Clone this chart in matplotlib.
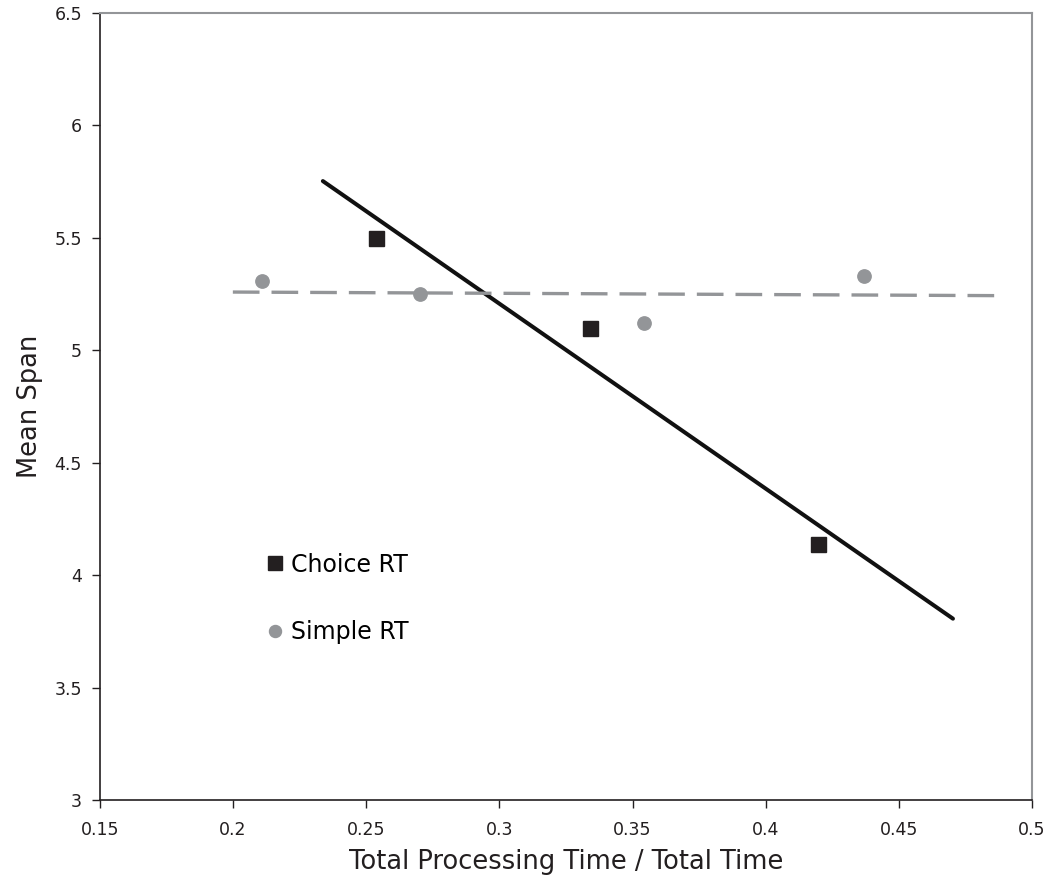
import numpy as np
import matplotlib
matplotlib.use('Agg')
import matplotlib.pyplot as plt

# values
choice_x = [0.2536, 0.334, 0.4196]
choice_y = [5.50, 5.10, 4.14]
simple_x = [0.2108, 0.270, 0.3543, 0.437]
simple_y = [5.31, 5.25, 5.12, 5.33]

# x extent of the two trendlines
choice_fit_range = [0.2337, 0.4703]
simple_fit_range = [0.1999, 0.488]

x_ticks = [0.15, 0.2, 0.25, 0.3, 0.35, 0.4, 0.45, 0.5]
y_ticks = [3, 3.5, 4, 4.5, 5, 5.5, 6, 6.5]

fig = plt.figure(figsize=(10.5, 8.8), dpi=100)
ax = fig.add_axes([0.0952, 0.0909, 0.8877, 0.8943])

# trendlines (least squares fit of each series)
m, b = np.polyfit(choice_x, choice_y, 1)
fx = np.array(choice_fit_range)
ax.plot(fx, m * fx + b, color='#111111', lw=2.9, solid_capstyle='round', zorder=2)

m, b = np.polyfit(simple_x, simple_y, 1)
fx = np.array(simple_fit_range)
ax.plot(fx, m * fx + b, color='#939598', lw=2.4, dashes=(8, 3.6), zorder=2)

ax.plot(choice_x, choice_y, 's', color='#231f20', ms=10.8, ls='none', label='Choice RT', zorder=3)
ax.plot(simple_x, simple_y, 'o', color='#939598', ms=9.6, ls='none', label='Simple RT', zorder=3)

ax.set_xlim(0.15, 0.5)
ax.set_ylim(3, 6.5)
ax.set_xticks(x_ticks)
ax.set_xticklabels([f'{t:g}' for t in x_ticks])
ax.set_yticks(y_ticks)
ax.set_yticklabels([f'{t:g}' for t in y_ticks])
ax.tick_params(direction='out', length=6, width=1, colors='#231f20', labelsize=12.5)
ax.tick_params(axis='x', pad=9)
ax.tick_params(axis='y', pad=7)

for side in ['left', 'bottom']:
    ax.spines[side].set_color('#231f20')
    ax.spines[side].set_linewidth(1.2)
for side in ['top', 'right']:
    ax.spines[side].set_color('#939598')
    ax.spines[side].set_linewidth(1.5)

ax.set_xlabel('Total Processing Time / Total Time', fontsize=18.5, color='#231f20', labelpad=7)
ax.set_ylabel('Mean Span', fontsize=18.5, color='#231f20', labelpad=8)

ax.legend(loc='center left', bbox_to_anchor=(0.180, 0.256), frameon=False, fontsize=17,
          handlelength=0.6, handletextpad=0.38, labelspacing=1.85, markerscale=0.9,
          borderpad=0, borderaxespad=0)

fig.savefig('out.png', dpi=100)
